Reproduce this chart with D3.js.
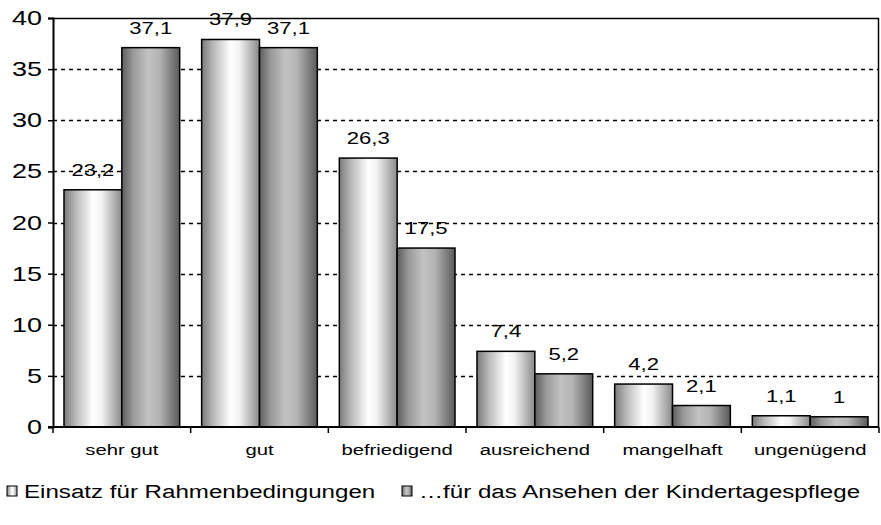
<!DOCTYPE html>
<html>
<head>
<meta charset="utf-8">
<script src="https://cdn.jsdelivr.net/npm/d3@7"></script>
<style>
  body { margin: 0; background: #fff; }
  text { font-family: "Liberation Sans", Arial, sans-serif; fill: #000; }
</style>
</head>
<body>
<div id="chart"></div>
<script>
// Chart data
var categories = ["sehr gut", "gut", "befriedigend", "ausreichend", "mangelhaft", "ungenügend"];
var rahmen = [23.2, 37.9, 26.3, 7.4, 4.2, 1.1];
var ansehen = [37.1, 37.1, 17.5, 5.2, 2.1, 1];
var seriesNames = ["Einsatz für Rahmenbedingungen", "…für das Ansehen der Kindertagespflege"];
var yTicks = [0, 5, 10, 15, 20, 25, 30, 35, 40];

var svgWidth = 881, svgHeight = 525;
var margin = { t: 18, r: 2, b: 98, l: 53 };
var chartWidth = svgWidth - margin.l - margin.r;
var chartHeight = svgHeight - margin.t - margin.b;

var svg = d3.select("#chart").append("svg")
    .attr("width", svgWidth)
    .attr("height", svgHeight);

// Gradients for the cylinder-ish bars
var defs = svg.append("defs");
function addGradient(id, stops) {
    var g = defs.append("linearGradient").attr("id", id)
        .attr("x1", "0%").attr("x2", "100%").attr("y1", "0%").attr("y2", "0%");
    stops.forEach(s => g.append("stop").attr("offset", s[0]).attr("stop-color", s[1]));
}
addGradient("g1", [["0%", "#7a7a7a"], ["20%", "#b8b8b8"], ["50%", "#ffffff"], ["65%", "#f2f2f2"], ["100%", "#8a8a8a"]]);
addGradient("g2", [["0%", "#5e5e5e"], ["20%", "#9a9a9a"], ["45%", "#c2c2c2"], ["65%", "#b4b4b4"], ["100%", "#5a5a5a"]]);

// Text in the original is stretched sideways, so scale it horizontally
function wideText(sel, x, y, size, sx) {
    return sel.attr("x", 0).attr("y", 0)
        .attr("transform", (d, i) => `translate(${x(d, i)} ${y(d, i)}) scale(${sx} 1)`)
        .style("font-size", size + "px");
}

var chart = svg.append("g").attr("transform", `translate(${margin.l} ${margin.t})`);

var xScale = d3.scaleBand().domain(categories).range([0, chartWidth]).paddingInner(0).paddingOuter(0);
var xInner = d3.scaleBand().domain([0, 1]).range([0, xScale.bandwidth()]).paddingInner(0).paddingOuter(0.19);
var yScale = d3.scaleLinear().domain([0, 40]).range([chartHeight, 0]);

// Gridlines
chart.append("g").selectAll("line")
    .data(yTicks.filter(d => d > 0 && d < 40))
    .enter().append("line")
    .attr("x1", 0).attr("x2", chartWidth)
    .attr("y1", d => Math.round(yScale(d)) + 0.5).attr("y2", d => Math.round(yScale(d)) + 0.5)
    .attr("stroke", "#000").attr("stroke-width", 1.5)
    .attr("stroke-dasharray", "4,4");

// Bars
var fmt = v => d3.format("~g")(v).replace(".", ",");
[rahmen, ansehen].forEach(function (vals, s) {
    var grp = chart.append("g");
    grp.selectAll("rect").data(vals).enter().append("rect")
        .attr("x", (d, i) => xScale(categories[i]) + xInner(s))
        .attr("y", d => yScale(d))
        .attr("width", xInner.bandwidth())
        .attr("height", d => chartHeight - yScale(d))
        .attr("fill", `url(#g${s + 1})`)
        .attr("stroke", "#000").attr("stroke-width", 1.5);
    wideText(grp.selectAll("text").data(vals).enter().append("text"),
        (d, i) => xScale(categories[i]) + xInner(s) + xInner.bandwidth() / 2,
        d => yScale(d) - 14, 17, 1.3)
        .attr("text-anchor", "middle")
        .text(d => fmt(d));
});

// Frame: top and right edges
chart.append("line").attr("x1", 0).attr("x2", chartWidth).attr("y1", 0.5).attr("y2", 0.5)
    .attr("stroke", "#000").attr("stroke-width", 1.5);
chart.append("line").attr("x1", chartWidth - 0.5).attr("x2", chartWidth - 0.5).attr("y1", 0).attr("y2", chartHeight)
    .attr("stroke", "#000").attr("stroke-width", 1.5);

// Y axis
var yAxis = d3.axisLeft(yScale).tickValues(yTicks).tickSize(5).tickFormat("");
var yg = chart.append("g").call(yAxis);
yg.select(".domain").attr("stroke-width", 2);
yg.selectAll(".tick line").attr("stroke-width", 1.5);
wideText(yg.selectAll("text.ylab").data(yTicks).enter().append("text").attr("class", "ylab"),
    d => -11, d => yScale(d) + 7, 20, 1.35)
    .attr("text-anchor", "end")
    .text(d => d);

// X axis
var xg = chart.append("g").attr("transform", `translate(0, ${chartHeight})`);
xg.append("line").attr("x1", -5).attr("x2", chartWidth).attr("y1", 0).attr("y2", 0)
    .attr("stroke", "#000").attr("stroke-width", 2);
xg.selectAll("line.tk").data(d3.range(categories.length + 1)).enter().append("line")
    .attr("class", "tk")
    .attr("x1", i => i * xScale.step()).attr("x2", i => i * xScale.step())
    .attr("y1", 0).attr("y2", 6)
    .attr("stroke", "#000").attr("stroke-width", 1.5);
wideText(xg.selectAll("text").data(categories).enter().append("text"),
    d => xScale(d) + xScale.bandwidth() / 2, d => 28, 15, 1.35)
    .attr("text-anchor", "middle")
    .text(d => d);

// Legend
var legendX = [7, 402];
var legend = svg.append("g");
seriesNames.forEach(function (name, s) {
    legend.append("rect")
        .attr("x", legendX[s]).attr("y", 486)
        .attr("width", 10).attr("height", 10)
        .attr("fill", `url(#g${s + 1})`)
        .attr("stroke", "#000").attr("stroke-width", 1);
    wideText(legend.append("text").datum(name), d => legendX[s] + 17, d => 498, 19, 1.27)
        .text(name);
});
</script>
</body>
</html>
